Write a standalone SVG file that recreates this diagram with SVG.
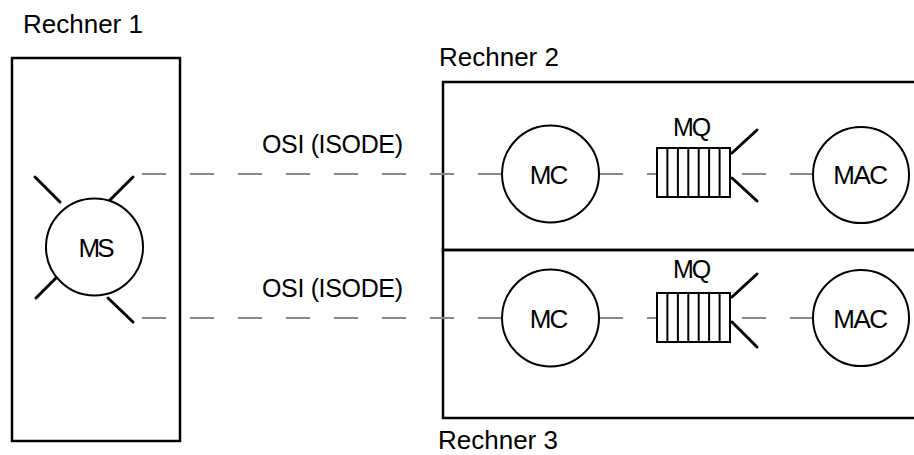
<svg xmlns="http://www.w3.org/2000/svg" width="914" height="455" viewBox="0 0 914 455">
  <style>
    .box { fill: none; stroke: #000; stroke-width: 2.5; }
    .node { fill: #fff; stroke: #000; stroke-width: 2; }
    .stub { stroke: #000; stroke-width: 3; stroke-linecap: round; }
    .cell { stroke: #000; stroke-width: 2; }
    .link { stroke: #888; stroke-width: 2.2; stroke-dasharray: 24 24; fill: none; }
    text { font-family: "Liberation Sans", Arial, sans-serif; font-size: 25px; fill: #000; }
    .lbl { text-anchor: middle; font-size: 26px; }
    .host { font-size: 26px; }
  </style>
  <defs>
    <!-- message queue: outlined box split into seven cells -->
    <g id="queue">
      <rect x="0" y="0" width="73" height="49" fill="#fff" stroke="#000" stroke-width="2"/>
      <line class="cell" x1="10.4" y1="0" x2="10.4" y2="49"/>
      <line class="cell" x1="20.9" y1="0" x2="20.9" y2="49"/>
      <line class="cell" x1="31.3" y1="0" x2="31.3" y2="49"/>
      <line class="cell" x1="41.7" y1="0" x2="41.7" y2="49"/>
      <line class="cell" x1="52.1" y1="0" x2="52.1" y2="49"/>
      <line class="cell" x1="62.6" y1="0" x2="62.6" y2="49"/>
    </g>
  </defs>

  <!-- machine frames -->
  <g id="rechner1">
    <rect class="box" x="12" y="58" width="168" height="383"/>
    <text class="host" x="23" y="33">Rechner 1</text>
  </g>
  <g id="rechner2">
    <rect class="box" x="443" y="82" width="480" height="168"/>
    <text class="host" x="439" y="66">Rechner 2</text>
  </g>
  <g id="rechner3">
    <rect class="box" x="443" y="250" width="480" height="168"/>
    <text class="host" x="438" y="449">Rechner 3</text>
  </g>

  <!-- connectors -->
  <g id="connectors">
    <line class="link" x1="142" y1="174" x2="502" y2="174"/>
    <line class="link" x1="599" y1="174" x2="657" y2="174"/>
    <line class="link" x1="742" y1="174" x2="813" y2="174"/>
    <line class="link" x1="142" y1="318" x2="502" y2="318"/>
    <line class="link" x1="599" y1="318" x2="657" y2="318"/>
    <line class="link" x1="742" y1="318" x2="813" y2="318"/>
    <text x="262" y="153" textLength="141">OSI (ISODE)</text>
    <text x="262" y="297" textLength="141">OSI (ISODE)</text>
  </g>

  <!-- MS server with four ports -->
  <g id="ms">
    <line class="stub" x1="35" y1="177" x2="60" y2="202"/>
    <line class="stub" x1="133" y1="177" x2="109" y2="201"/>
    <line class="stub" x1="36" y1="298" x2="60" y2="274"/>
    <line class="stub" x1="108" y1="298" x2="133" y2="322"/>
    <circle class="node" cx="94.5" cy="247" r="48.5"/>
    <text class="lbl" x="95" y="257" letter-spacing="-3">MS</text>
  </g>

  <g id="mc2">
    <circle class="node" cx="550.5" cy="174" r="48.5"/>
    <text class="lbl" x="548" y="184" letter-spacing="-2">MC</text>
  </g>
  <g id="mq2">
    <use href="#queue" x="657" y="148"/>
    <line class="stub" x1="732" y1="153" x2="757" y2="130"/>
    <line class="stub" x1="732" y1="178" x2="757" y2="201"/>
    <text x="673" y="136" letter-spacing="-2">MQ</text>
  </g>
  <g id="mac2">
    <circle class="node" cx="861" cy="175" r="48"/>
    <text class="lbl" x="860" y="184" letter-spacing="-1.5">MAC</text>
  </g>

  <g id="mc3">
    <circle class="node" cx="550.5" cy="318" r="48.5"/>
    <text class="lbl" x="548" y="328" letter-spacing="-2">MC</text>
  </g>
  <g id="mq3">
    <use href="#queue" x="657" y="293"/>
    <line class="stub" x1="732" y1="297" x2="757" y2="274"/>
    <line class="stub" x1="732" y1="322" x2="757" y2="347"/>
    <text x="673" y="278" letter-spacing="-2">MQ</text>
  </g>
  <g id="mac3">
    <circle class="node" cx="861" cy="318" r="48"/>
    <text class="lbl" x="860" y="328" letter-spacing="-1.5">MAC</text>
  </g>
</svg>
